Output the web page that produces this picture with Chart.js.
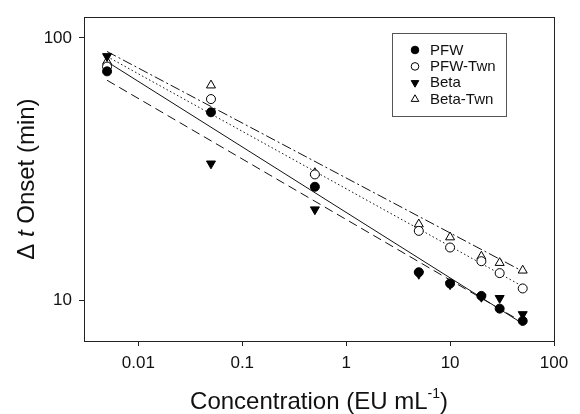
<!DOCTYPE html>
<html>
<head>
<meta charset="utf-8">
<script src="https://cdn.jsdelivr.net/npm/chart.js@4/dist/chart.umd.js"></script>
<style>
  html, body { margin: 0; padding: 0; background: #fff; }
  #wrap { width: 580px; height: 414px; }
</style>
</head>
<body>
<div id="wrap"><canvas id="cvs" width="580" height="414"></canvas></div>
<script>
'use strict'

// concentrations (EU/mL) and onset times (min)
var conc = [0.005, 0.05, 0.5, 5, 10, 20, 30, 50]
var pfw = [74.6, 52.1, 27.1, 12.8, 11.6, 10.4, 9.3, 8.35]
var pfwTwn = [77.8, 58.5, 30.2, 18.4, 15.9, 14.1, 12.7, 11.1]
var beta = [85.2, 33.2, 22.2, 12.6, 11.5, 10.3, 10.2, 8.85]
var betaTwn = [81.3, 66, 30.6, 19.5, 17.4, 14.7, 13.9, 13.0]

// regression lines, end points
var fitX = [0.005, 50]
var pfwFit = [81.2, 8.15]
var pfwTwnFit = [85, 11.3]
var betaFit = [69, 8.25]
var betaTwnFit = [88.8, 12.9]

var seriesNames = ['PFW', 'PFW-Twn', 'Beta', 'Beta-Twn']
var xTickValues = [0.01, 0.1, 1, 10, 100]
var xTickLabels = ['0.01', '0.1', '1', '10', '100']
var yTickValues = [10, 100]
var yTickLabels = ['10', '100']

var FONT = '"Liberation Sans", Arial, Helvetica, sans-serif'

function pts(xs, ys) {
  return xs.map(function (x, i) { return { x: x, y: ys[i] } })
}

var markerStyles = [
  { pointStyle: 'circle', fill: '#000', radius: 4.5, rotation: 0 },
  { pointStyle: 'circle', fill: '#fff', radius: 4.5, rotation: 0 },
  { pointStyle: 'triangle', fill: '#000', radius: 5.2, rotation: 180 },
  { pointStyle: 'triangle', fill: '#fff', radius: 5.2, rotation: 0 },
]

function markerSet(label, ys, idx) {
  var m = markerStyles[idx]
  return {
    label: label,
    type: 'scatter',
    data: pts(conc, ys),
    showLine: false,
    pointStyle: m.pointStyle,
    pointRotation: m.rotation,
    pointRadius: m.radius,
    pointBackgroundColor: m.fill,
    pointBorderColor: '#000',
    pointBorderWidth: 1,
    order: 0,
  }
}

function fitSet(label, ys, dash) {
  return {
    label: label,
    type: 'line',
    data: pts(fitX, ys),
    showLine: true,
    borderColor: '#111',
    borderWidth: 1,
    borderDash: dash,
    pointRadius: 0,
    fill: false,
    order: 1,
  }
}

function drawMarker(ctx, style, x, y, r) {
  ctx.save()
  ctx.beginPath()
  if (style.pointStyle === 'circle') {
    ctx.arc(x, y, r, 0, Math.PI * 2)
  } else {
    var s = style.rotation === 180 ? -1 : 1
    ctx.moveTo(x, y - s * r)
    ctx.lineTo(x + r * 0.866, y + s * r * 0.5)
    ctx.lineTo(x - r * 0.866, y + s * r * 0.5)
    ctx.closePath()
  }
  ctx.fillStyle = style.fill
  ctx.fill()
  ctx.strokeStyle = '#000'
  ctx.lineWidth = 1
  ctx.stroke()
  ctx.restore()
}

var decorations = {
  id: 'decorations',
  afterDraw: function (chart) {
    var ctx = chart.ctx
    var a = chart.chartArea
    ctx.save()

    // frame round the plot
    ctx.strokeStyle = '#222'
    ctx.lineWidth = 1
    ctx.strokeRect(Math.round(a.left) + 0.5, Math.round(a.top) + 0.5, Math.round(a.right - a.left), Math.round(a.bottom - a.top))

    // x title with superscript
    ctx.fillStyle = '#111'
    ctx.textBaseline = 'alphabetic'
    var main = 'Concentration (EU mL'
    var sup = '-1'
    var close = ')'
    ctx.font = '24px ' + FONT
    var wMain = ctx.measureText(main).width
    var wClose = ctx.measureText(close).width
    ctx.font = '14px ' + FONT
    var wSup = ctx.measureText(sup).width
    var total = wMain + wSup + wClose
    var cx = (a.left + a.right) / 2
    var x0 = cx - total / 2
    var base = 409
    ctx.textAlign = 'left'
    ctx.font = '24px ' + FONT
    ctx.fillText(main, x0, base)
    ctx.font = '14px ' + FONT
    ctx.fillText(sup, x0 + wMain, base - 11)
    ctx.font = '24px ' + FONT
    ctx.fillText(close, x0 + wMain + wSup, base)

    // y title, rotated, with italic t
    var parts = [
      { t: '\u0394 ', f: '24px ' + FONT },
      { t: 't', f: 'italic 24px ' + FONT },
      { t: ' Onset (min)', f: '24px ' + FONT },
    ]
    var len = 0
    parts.forEach(function (p) {
      ctx.font = p.f
      p.w = ctx.measureText(p.t).width
      len += p.w
    })
    ctx.translate(34, (a.top + a.bottom) / 2)
    ctx.rotate(-Math.PI / 2)
    var px = -len / 2
    parts.forEach(function (p) {
      ctx.font = p.f
      ctx.fillText(p.t, px, 0)
      px += p.w
    })
    ctx.restore()

    // legend box
    ctx.save()
    var lx = 392, ly = 33, lw = 114, lh = 83
    ctx.fillStyle = '#fff'
    ctx.fillRect(lx, ly, lw, lh)
    ctx.strokeStyle = '#555'
    ctx.lineWidth = 1
    ctx.strokeRect(lx + 0.5, ly + 0.5, lw, lh)
    ctx.font = '15px ' + FONT
    ctx.fillStyle = '#111'
    ctx.textAlign = 'left'
    ctx.textBaseline = 'middle'
    seriesNames.forEach(function (name, i) {
      var ry = 50 + i * 16.4
      var m = markerStyles[i]
      drawMarker(ctx, m, 415, ry, m.pointStyle === 'circle' ? 3.8 : 4.4)
      ctx.fillStyle = '#111'
      ctx.fillText(name, 430, ry + 0.5)
    })
    ctx.restore()
  },
}

var tickFont = { family: FONT, size: 17 }

new Chart(document.getElementById('cvs'), {
  type: 'scatter',
  data: {
    datasets: [
      fitSet('PFW fit', pfwFit, []),
      fitSet('PFW-Twn fit', pfwTwnFit, [1.5, 2.5]),
      fitSet('Beta fit', betaFit, [9, 5]),
      fitSet('Beta-Twn fit', betaTwnFit, [10, 3, 2, 3]),
      markerSet(seriesNames[0], pfw, 0),
      markerSet(seriesNames[1], pfwTwn, 1),
      markerSet(seriesNames[2], beta, 2),
      markerSet(seriesNames[3], betaTwn, 3),
    ],
  },
  options: {
    responsive: false,
    animation: false,
    layout: { padding: { top: 11, right: 26, left: 0, bottom: 0 } },
    plugins: {
      legend: { display: false },
      tooltip: { enabled: false },
    },
    scales: {
      x: {
        type: 'logarithmic',
        position: 'bottom',
        min: 0.003,
        max: 100,
        afterBuildTicks: function (s) {
          s.ticks = xTickValues.map(function (v) { return { value: v } })
        },
        afterFit: function (s) { s.height = 73 },
        ticks: {
          autoSkip: false,
          maxRotation: 0,
          padding: 7,
          color: '#111',
          font: tickFont,
          callback: function (v, i) { return xTickLabels[i] },
        },
        grid: { drawOnChartArea: false, drawTicks: true, tickLength: 5, color: '#222' },
        border: { color: '#222' },
      },
      y: {
        type: 'logarithmic',
        min: 7,
        max: 120,
        afterBuildTicks: function (s) {
          s.ticks = yTickValues.map(function (v) { return { value: v } })
        },
        afterFit: function (s) { s.width = 84 },
        ticks: {
          autoSkip: false,
          padding: 7,
          color: '#111',
          font: tickFont,
          callback: function (v, i) { return yTickLabels[i] },
        },
        grid: { drawOnChartArea: false, drawTicks: true, tickLength: 5, color: '#222' },
        border: { color: '#222' },
      },
    },
  },
  plugins: [decorations],
})
</script>
</body>
</html>
